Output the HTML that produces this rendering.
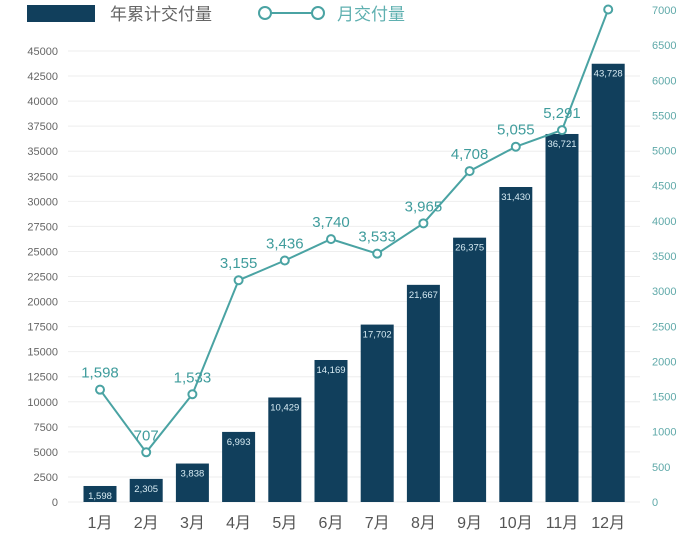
<!DOCTYPE html>
<html><head><meta charset="utf-8"><style>
body{margin:0;background:#fff;}
svg{display:block;font-family:"Liberation Sans","Noto Sans CJK SC",sans-serif;}
</style></head><body>
<svg id="c" width="700" height="540">
<g>
<rect x="27" y="5" width="68" height="17" fill="#113f5c"/>
<text x="110" y="20" font-size="17" fill="#666">年累计交付量</text>
<line x1="271" y1="13" x2="313" y2="13" stroke="#4aa3a3" stroke-width="2"/>
<circle cx="265" cy="13" r="6" fill="#fff" stroke="#4aa3a3" stroke-width="2"/>
<circle cx="318" cy="13" r="6" fill="#fff" stroke="#4aa3a3" stroke-width="2"/>
<text x="337" y="20" font-size="17" fill="#5fb0b0">月交付量</text>
</g>
<g id="grid"></g><g id="bars"></g><g id="line"></g><g id="axes"></g>
</svg>
<script>
const months=["1月","2月","3月","4月","5月","6月","7月","8月","9月","10月","11月","12月"];
const cumulative=[1598,2305,3838,6993,10429,14169,17702,21667,26375,31430,36721,43728];
const monthly=[1598,707,1533,3155,3436,3740,3533,3965,4708,5055,5291,7007];
const leftTicks=[0,2500,5000,7500,10000,12500,15000,17500,20000,22500,25000,27500,30000,32500,35000,37500,40000,42500,45000];
const rightTicks=[0,500,1000,1500,2000,2500,3000,3500,4000,4500,5000,5500,6000,6500,7000];
const NS="http://www.w3.org/2000/svg";
const y0=502;
const yL=v=>y0-v*(451/45000);
const yR=v=>y0-v*(492/7000);
const xC=i=>100+i*46.2;
const fmt=v=>v.toLocaleString("en-US");
function mk(tag,attrs,parent,text){const e=document.createElementNS(NS,tag);for(const k in attrs)e.setAttribute(k,attrs[k]);if(text!==undefined)e.textContent=text;document.getElementById(parent).appendChild(e);return e;}
leftTicks.forEach(t=>{
 const g=mk("line",{x1:68,x2:640,y1:yL(t),y2:yL(t),stroke:"#eeeeee","stroke-width":1},"grid");
 
 
 const l=mk("text",{x:58,y:yL(t)+4,"font-size":11,fill:"#666","text-anchor":"end"},"axes",String(t));
 
 
});
rightTicks.forEach(t=>{
 const l=mk("text",{x:652,y:yR(t)+4,"font-size":11,fill:"#5fa9a9"},"axes",String(t));
 
 
});
months.forEach((m,i)=>{
 const l=mk("text",{x:xC(i),y:528,"font-size":16,fill:"#555","text-anchor":"middle"},"axes",m);
 
 
 const v=cumulative[i];
 const b=mk("rect",{x:xC(i)-16.5,y:yL(v),width:33,height:y0-yL(v),fill:"#113f5c"},"bars");
 
 
 const bl=mk("text",{x:xC(i),y:yL(v)+13,"font-size":9.5,fill:"#d8ecf4","text-anchor":"middle"},"bars",fmt(v));
 
 
});
const pts=monthly.map((v,i)=>xC(i)+","+yR(v)).join(" ");
const pl=mk("polyline",{points:pts,fill:"none",stroke:"#4aa3a3","stroke-width":2},"line");


monthly.forEach((v,i)=>{
 const c=mk("circle",{cx:xC(i),cy:yR(v),r:4,fill:"#fff",stroke:"#4aa3a3","stroke-width":2},"line");
 
 
 const dx=i===11?-22:0;
 const t=mk("text",{x:xC(i)+dx,y:yR(v)-12,"font-size":15,fill:"#3f9c9c","text-anchor":"middle"},"line",fmt(v));
 
 
});
</script>
</body></html>
